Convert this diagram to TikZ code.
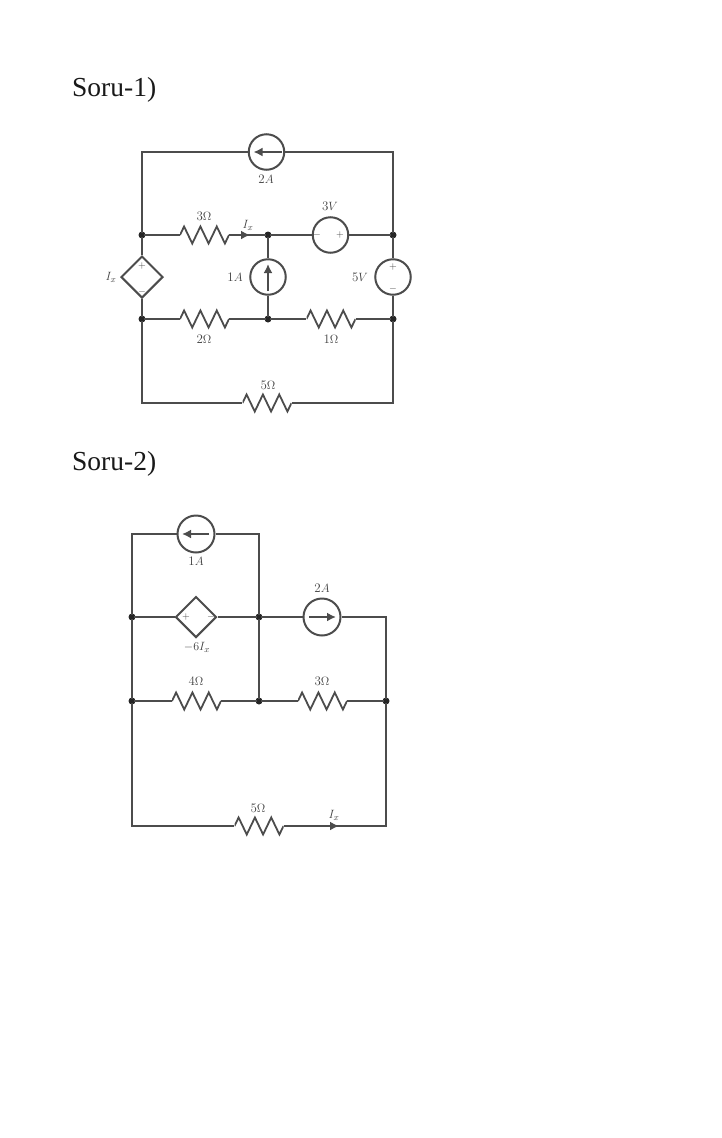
\documentclass[tikz,border=0pt]{standalone}
\usepackage{fontspec}
\newfontfamily\titlefont{Liberation Serif}
\usetikzlibrary{shapes.geometric,calc,arrows.meta}
\definecolor{ink}{HTML}{4C4C4C}
\definecolor{txt}{HTML}{404040}
\tikzset{
  x=1pt,y=-1pt,
  wire/.style={draw=ink,line width=2pt,line join=miter},
  dotj/.style={circle,fill=black!85,inner sep=0pt,minimum size=7pt,outer sep=-1.5pt},
  res/.style={rectangle,inner sep=0pt,minimum width=#1,minimum height=24pt,
    path picture={
      \draw[ink,line width=1.8pt,line join=miter]
        (path picture bounding box.west)
        -- ++(#1/12,-8.5) -- ++(#1/6,17) -- ++(#1/6,-17) -- ++(#1/6,17)
        -- ++(#1/6,-17) -- ++(#1/6,17) -- ++(#1/12,-8.5);
    }},
  res/.default=49,
  src/.style={circle,draw=ink,line width=2pt,inner sep=0pt,minimum size=35.5pt},
  dep/.style={diamond,aspect=1,draw=ink,line width=2pt,inner sep=0pt,minimum size=#1},
  arr/.style={ink,line width=2pt,-{Latex[length=9pt,width=9pt]}},
  lab/.style={text=txt,font=\fontsize{13}{15}\selectfont,inner sep=0pt},
  sgn/.style={text=txt,font=\fontsize{10}{11}\selectfont,inner sep=0pt},
  title/.style={text=black!90,font=\titlefont\fontsize{27.5}{32}\selectfont,inner sep=0pt,anchor=base west},
}
\begin{document}
\begin{tikzpicture}
\useasboundingbox (0,0) rectangle (722,1138);
\node[title] (t1) at (72,96) {Soru-1)};
\node[title] (t2) at (72,470) {Soru-2)};

% ---------- circuit 1 ----------
\node[dotj] (aL) at (142,235) {};
\node[dotj] (aM) at (268,235) {};
\node[dotj] (aR) at (393,235) {};
\node[dotj] (bL) at (142,319) {};
\node[dotj] (bM) at (268,319) {};
\node[dotj] (bR) at (393,319) {};
\node[src] (s2A) at (266.5,152) {};
\node[src] (s3V) at (330.5,235) {};
\node[src] (s1A) at (268,277) {};
\node[src] (s5V) at (393,277) {};
\node[dep=42pt] (dIx) at (142,277) {};
\node[res] (r3a) at (204.5,235) {};
\node[res] (r2a) at (204.5,319) {};
\node[res] (r1a) at (331,319) {};
\node[res] (r5a) at (267,403) {};
\coordinate (ixa) at (250,235);

\draw[wire] (aL) |- (s2A);
\draw[wire] (s2A) -| (aR);
\draw[wire] (aL) -- (r3a);
\draw[wire] (r3a) -- (aM);
\draw[arr] (r3a) -- (ixa);
\draw[wire] (aM) -- (s3V);
\draw[wire] (s3V) -- (aR);
\draw[wire] (aL) -- (dIx);
\draw[wire] (dIx) -- (bL);
\draw[wire] (aM) -- (s1A);
\draw[wire] (s1A) -- (bM);
\draw[wire] (aR) -- (s5V);
\draw[wire] (s5V) -- (bR);
\draw[wire] (bL) -- (r2a);
\draw[wire] (r2a) -- (bM);
\draw[wire] (bM) -- (r1a);
\draw[wire] (r1a) -- (bR);
\draw[wire] (bL) |- (r5a);
\draw[wire] (r5a) -| (bR);
\draw[arr] ($(s2A)+(15,0)$) -- ($(s2A)+(-13,0)$);
\draw[arr] ($(s1A)+(0,14)$) -- ($(s1A)+(0,-13)$);

\node[lab] (l2A) at (266,179) {2$A$};
\node[lab] (l3V) at (330,206) {3$V$};
\node[lab] (l3O) at (204,216) {3$\Omega$};
\node[lab] (lIa) at (248,225) {$I_x$};
\node[lab] (lIb) at (111,277) {$I_x$};
\node[lab] (l1A) at (235,277) {1$A$};
\node[lab] (l5V) at (360,277) {5$V$};
\node[lab] (l2O) at (204,339) {2$\Omega$};
\node[lab] (l1O) at (331,339) {1$\Omega$};
\node[lab] (l5O) at (268,385) {5$\Omega$};
\node[sgn] (p1) at (142,266) {$+$};
\node[sgn] (m1) at (142,292) {$-$};
\node[sgn] (p2) at (393,267) {$+$};
\node[sgn] (m2) at (393,289) {$-$};
\node[sgn] (m3) at (317,235) {$-$};
\node[sgn] (p3) at (340,235) {$+$};

% ---------- circuit 2 ----------
\node[dotj] (dL) at (132,617) {};
\node[dotj] (dM) at (259,617) {};
\node[dotj] (eL) at (132,701) {};
\node[dotj] (eM) at (259,701) {};
\node[dotj] (eR) at (386,701) {};
\node[src,minimum size=37pt] (s1B) at (196,534) {};
\node[src,minimum size=37pt] (s2B) at (322,617) {};
\node[dep=41pt] (d6) at (196,617) {};
\node[res] (r4b) at (196.5,701) {};
\node[res] (r3b) at (322.5,701) {};
\node[res] (r5b) at (259,826) {};
\coordinate (ixb) at (339,826);

\draw[wire] (dL) |- (s1B);
\draw[wire] (s1B) -| (dM);
\draw[wire] (dL) -- (d6);
\draw[wire] (d6) -- (dM);
\draw[wire] (dM) -- (s2B);
\draw[wire] (s2B) -| (eR);
\draw[wire] (dL) -- (eL);
\draw[wire] (dM) -- (eM);
\draw[wire] (eL) -- (r4b);
\draw[wire] (r4b) -- (eM);
\draw[wire] (eM) -- (r3b);
\draw[wire] (r3b) -- (eR);
\draw[wire] (eL) |- (r5b);
\draw[wire] (r5b) -| (eR);
\draw[arr] (r5b) -- (ixb);
\draw[arr] ($(s1B)+(13,0)$) -- ($(s1B)+(-14,0)$);
\draw[arr] ($(s2B)+(-13,0)$) -- ($(s2B)+(14,0)$);

\node[lab] (l1B) at (196,561) {1$A$};
\node[lab] (l2B) at (322,588) {2$A$};
\node[lab] (l6)  at (197,647) {$-6I_x$};
\node[lab] (l4O) at (196,681) {4$\Omega$};
\node[lab] (l3P) at (322,681) {3$\Omega$};
\node[lab] (l5P) at (258,808) {5$\Omega$};
\node[lab] (lIc) at (334,815) {$I_x$};
\node[sgn] (p4) at (186,617) {$+$};
\node[sgn] (m4) at (211,617) {$-$};
\end{tikzpicture}
\end{document}
